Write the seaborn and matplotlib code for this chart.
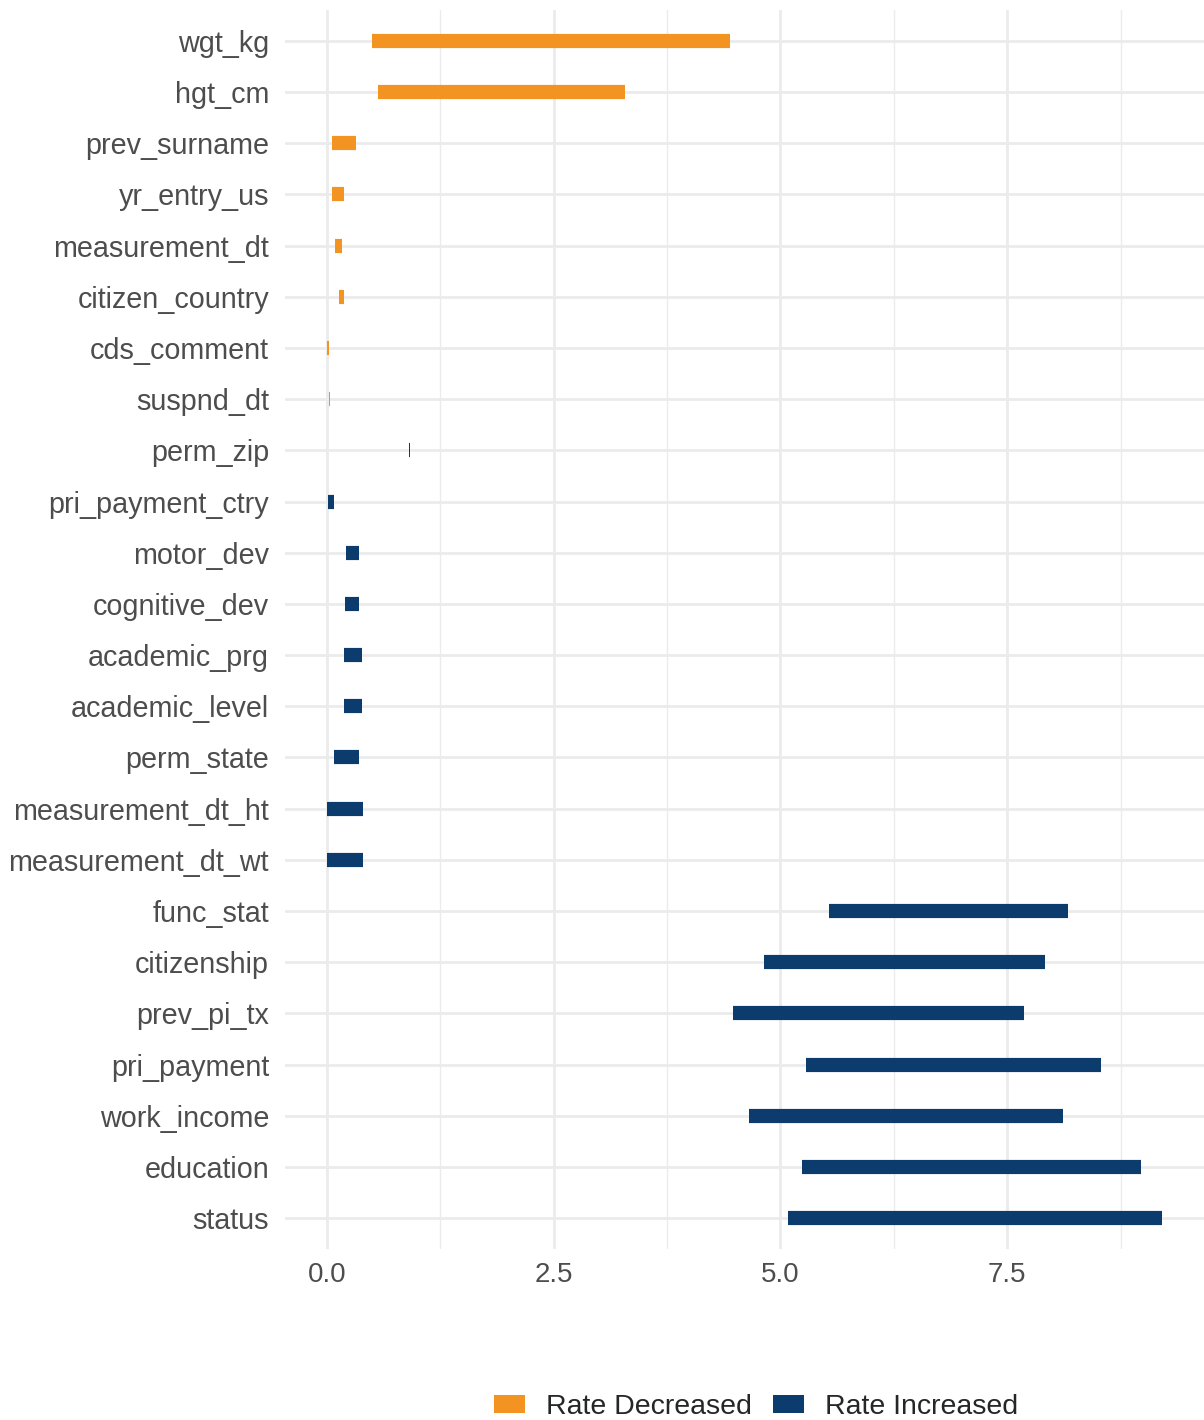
import pandas as pd
import matplotlib.pyplot as plt
import seaborn as sns
from matplotlib.patches import Patch
from matplotlib.ticker import MultipleLocator

# Datos (inicio y fin de cada segmento)
variables = ['wgt_kg', 'hgt_cm', 'prev_surname', 'yr_entry_us', 'measurement_dt',
             'citizen_country', 'cds_comment', 'suspnd_dt', 'perm_zip', 'pri_payment_ctry',
             'motor_dev', 'cognitive_dev', 'academic_prg', 'academic_level', 'perm_state',
             'measurement_dt_ht', 'measurement_dt_wt', 'func_stat', 'citizenship',
             'prev_pi_tx', 'pri_payment', 'work_income', 'education', 'status']
start = [0.50, 0.56, 0.055, 0.055, 0.09, 0.13, 0.0, 0.030, 0.903, 0.015,
         0.215, 0.205, 0.19, 0.19, 0.085, 0.0, 0.0, 5.54, 4.82, 4.48, 5.28, 4.65, 5.24, 5.09]
end = [4.45, 3.29, 0.32, 0.185, 0.165, 0.185, 0.025, 0.034, 0.915, 0.08,
       0.355, 0.355, 0.385, 0.385, 0.355, 0.395, 0.40, 8.17, 7.92, 7.69, 8.54, 8.12, 8.98, 9.21]
direction = ['Rate Decreased'] * 8 + ['Rate Increased'] * 16

colors = {'Rate Decreased': '#F39322', 'Rate Increased': '#0C3B6D'}

# Formato largo: dos puntos por variable
df = pd.DataFrame({
    'variable': variables * 2,
    'value': start + end,
    'direction': direction * 2,
})

sns.set_theme(style='whitegrid')
plt.rcParams['font.family'] = ['Liberation Sans', 'DejaVu Sans']

fig = plt.figure(figsize=(12.04, 14.2), dpi=100)
ax = fig.add_axes([285 / 1204, 171 / 1420, 1 - 285 / 1204, 1239 / 1420])

sns.lineplot(data=df, x='value', y='variable', hue='direction', units='variable',
             estimator=None, orient='y', palette=colors, linewidth=10.2,
             solid_capstyle='butt', legend=False, ax=ax)

ax.set_ylim(len(variables) - 0.4, -0.6)
ax.set_xlim(-0.46, 9.67)
ax.xaxis.set_major_locator(MultipleLocator(2.5))
ax.xaxis.set_minor_locator(MultipleLocator(1.25))
ax.set_xticks([0, 2.5, 5, 7.5])
ax.set_xticklabels(['0.0', '2.5', '5.0', '7.5'])

ax.grid(which='major', color='#EBEBEB', linewidth=2.0)
ax.grid(which='minor', axis='x', color='#EBEBEB', linewidth=1.0)
ax.set_axisbelow(True)
for s in ax.spines.values():
    s.set_visible(False)

ax.tick_params(axis='y', labelsize=20.7, labelcolor='#4D4D4D', length=0, pad=11.5)
ax.tick_params(axis='x', labelsize=20, labelcolor='#4D4D4D', length=0, pad=9.5)
ax.set_xlabel('')
ax.set_ylabel('')

handles = [Patch(facecolor=colors[k], edgecolor='none', label=k) for k in colors]
fig.legend(handles=handles, loc='center', bbox_to_anchor=(0.628, 1 - 1407 / 1420), ncol=2,
           frameon=False, fontsize=20.5, handlelength=1.1, handleheight=0.55,
           handletextpad=0.75, columnspacing=0.72)

fig.savefig('out.png', dpi=100, facecolor='white')
